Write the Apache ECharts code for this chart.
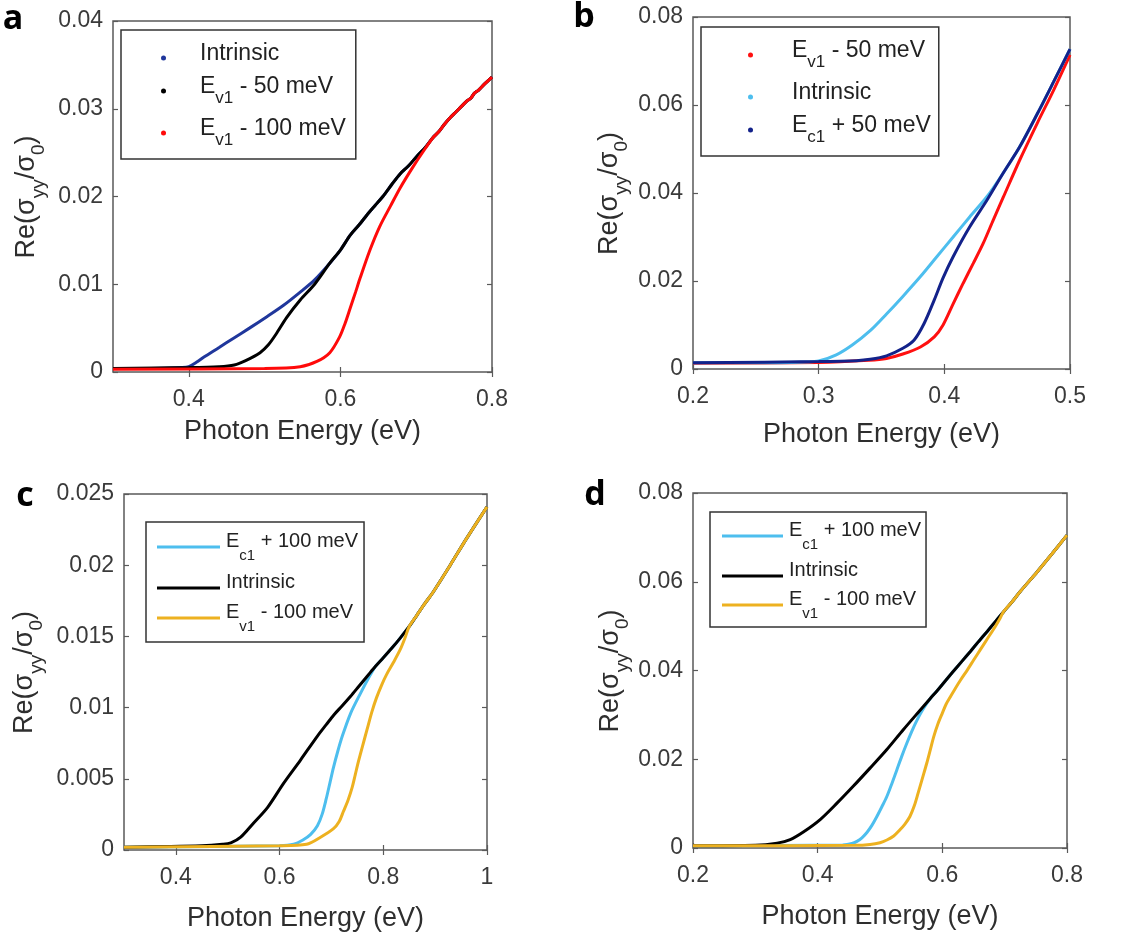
<!DOCTYPE html>
<html>
<head>
<meta charset="utf-8">
<script src="https://cdn.jsdelivr.net/npm/echarts@6/dist/echarts.min.js"></script>
<style>
  html, body { margin: 0; padding: 0; background: #fff; }
  #main { width: 1141px; height: 938px; }
</style>
</head>
<body>
<div id="main"></div>
<script>
// ---- Panel a: doping relative to the first valence band edge ----
const aIntrinsicLow = [[0.30,0.0004],[0.35,0.0004],[0.39,0.0005],[0.40,0.0006],[0.41,0.0011],[0.42,0.0017],[0.44,0.0028],[0.458,0.0038],[0.48,0.0050],[0.503,0.0063],[0.525,0.0076],[0.547,0.0091],[0.566,0.0105]];
const aEv50Low = [[0.30,0.0004],[0.40,0.0005],[0.44,0.0006],[0.46,0.0008],[0.475,0.0013],[0.494,0.0022],[0.505,0.0031],[0.515,0.0043],[0.529,0.0062],[0.547,0.0082],[0.566,0.0100]];
const aJoint = [[0.586,0.0124],[0.60,0.0139],[0.613,0.0156],[0.625,0.0168],[0.635,0.0179],[0.646,0.0190],[0.656,0.0200],[0.668,0.0214],[0.679,0.0226],[0.690,0.0235],[0.701,0.0246],[0.712,0.0256]];
const aTail = [[0.722,0.0267],[0.730,0.0274],[0.737,0.0282],[0.745,0.0290],[0.752,0.0296],[0.760,0.0303],[0.767,0.0309],[0.772,0.0312],[0.777,0.0318],[0.782,0.0321],[0.790,0.0328],[0.800,0.0336]];
const aEv100Low = [[0.30,0.0003],[0.50,0.0004],[0.547,0.0006],[0.569,0.0012],[0.586,0.0022],[0.599,0.0040],[0.606,0.0055],[0.613,0.0073],[0.620,0.0091],[0.626,0.0107],[0.639,0.0139],[0.652,0.0166],[0.666,0.0189],[0.679,0.0210],[0.696,0.0234],[0.709,0.0251]];
const aXTicks = [0.4, 0.6, 0.8];
const aYTicks = [0, 0.01, 0.02, 0.03, 0.04];

// ---- Panel b ----
const bIntrinsicLow = [[0.20,0.0014],[0.25,0.0014],[0.29,0.0016],[0.30,0.0018],[0.314,0.0032],[0.327,0.0055],[0.341,0.0087],[0.354,0.0125],[0.367,0.0165],[0.381,0.0210],[0.394,0.0255],[0.407,0.0300],[0.420,0.0345],[0.434,0.0392]];
const bEc50Low = [[0.20,0.0014],[0.30,0.0017],[0.330,0.0019],[0.341,0.0022],[0.354,0.0030],[0.367,0.0047],[0.376,0.0066],[0.384,0.0104],[0.392,0.0157],[0.399,0.0207],[0.407,0.0255],[0.420,0.0322],[0.434,0.0384]];
const bTail = [[0.447,0.0446],[0.460,0.0505],[0.474,0.0580],[0.487,0.0653],[0.500,0.0727]];
const bEv50 = [[0.20,0.0013],[0.30,0.0015],[0.340,0.0020],[0.354,0.0024],[0.367,0.0034],[0.381,0.0050],[0.392,0.0073],[0.399,0.0100],[0.407,0.0148],[0.415,0.0195],[0.423,0.0240],[0.431,0.0286],[0.439,0.0339],[0.447,0.0391],[0.460,0.0475],[0.474,0.0559],[0.487,0.0634],[0.500,0.0714]];
const bXTicks = [0.2, 0.3, 0.4, 0.5];
const bYTicks = [0, 0.02, 0.04, 0.06, 0.08];

// ---- Panel c ----
const cIntrinsicLow = [[0.30,0.0002],[0.45,0.0003],[0.49,0.0004],[0.506,0.0005],[0.525,0.0009],[0.55,0.0019],[0.577,0.0030],[0.608,0.0047],[0.640,0.0063],[0.673,0.0080],[0.690,0.0088],[0.705,0.0095],[0.720,0.0101],[0.737,0.0108],[0.753,0.0115],[0.769,0.0122]];
const cEc100Low = [[0.30,0.0002],[0.60,0.0003],[0.627,0.0004],[0.645,0.0007],[0.660,0.0011],[0.673,0.0017],[0.682,0.0025],[0.690,0.0036],[0.697,0.0047],[0.704,0.0058],[0.712,0.0069],[0.721,0.0080],[0.737,0.0096],[0.756,0.0110],[0.775,0.0123]];
const cMid = [[0.785,0.0129],[0.800,0.0135],[0.817,0.0142],[0.833,0.0149]];
const cTail = [[0.850,0.0157],[0.865,0.0165],[0.880,0.0173],[0.896,0.0181],[0.929,0.0200],[0.961,0.0219],[1.000,0.0241]];
const cEv100Low = [[0.30,0.0002],[0.60,0.0003],[0.652,0.0004],[0.679,0.0009],[0.704,0.0015],[0.715,0.0020],[0.723,0.0027],[0.732,0.0035],[0.740,0.0044],[0.746,0.0053],[0.752,0.0062],[0.760,0.0073],[0.769,0.0085],[0.778,0.0097],[0.787,0.0107],[0.797,0.0116],[0.806,0.0123],[0.820,0.0132],[0.833,0.0141],[0.842,0.0149]];
const cXTicks = [0.4, 0.6, 0.8, 1];
const cYTicks = [0, 0.005, 0.01, 0.015, 0.02, 0.025];

// ---- Panel d ----
const dIntrinsicLow = [[0.20,0.0005],[0.30,0.0006],[0.335,0.0011],[0.356,0.0019],[0.377,0.0036],[0.404,0.0064],[0.431,0.0101],[0.457,0.0139],[0.484,0.0180],[0.511,0.0222],[0.537,0.0266],[0.564,0.0310],[0.580,0.0336]];
const dEc100Low = [[0.20,0.0005],[0.44,0.0007],[0.455,0.0010],[0.463,0.0015],[0.471,0.0023],[0.479,0.0035],[0.487,0.0051],[0.495,0.0071],[0.503,0.0093],[0.511,0.0116],[0.519,0.0145],[0.527,0.0176],[0.535,0.0207],[0.543,0.0236],[0.551,0.0263],[0.559,0.0287],[0.567,0.0308],[0.575,0.0326],[0.583,0.0341]];
const dMid = [[0.592,0.0355],[0.605,0.0377],[0.617,0.0397],[0.631,0.0420],[0.645,0.0443],[0.658,0.0465],[0.672,0.0488],[0.685,0.0510]];
const dTail = [[0.698,0.0532],[0.712,0.0555],[0.725,0.0578],[0.752,0.0622],[0.776,0.0663],[0.800,0.0705]];
const dEv100Low = [[0.20,0.0005],[0.46,0.0006],[0.484,0.0008],[0.500,0.0012],[0.511,0.0018],[0.522,0.0027],[0.532,0.0041],[0.540,0.0054],[0.548,0.0071],[0.555,0.0095],[0.561,0.0123],[0.568,0.0157],[0.575,0.0191],[0.581,0.0223],[0.586,0.0250],[0.593,0.0280],[0.600,0.0304],[0.606,0.0324],[0.613,0.0341],[0.621,0.0360],[0.629,0.0378],[0.640,0.0401],[0.650,0.0423],[0.661,0.0447],[0.672,0.0471],[0.684,0.0497],[0.692,0.0516]];
const dXTicks = [0.2, 0.4, 0.6, 0.8];
const dYTicks = [0, 0.02, 0.04, 0.06, 0.08];

// Legend entries (rich text with subscripts)
const legendText = {
  aI:  '{g| }{m|Intrinsic}',
  aV50: '{g| }{m|E}{s|v1}{m| - 50 meV}',
  aV100: '{g| }{m|E}{s|v1}{m| - 100 meV}',
  bV50: '{g| }{m|E}{s|v1}{m| - 50 meV}',
  bI:  '{g| }{m|Intrinsic}',
  bC50: '{g| }{m|E}{s|c1}{m| + 50 meV}',
  cC100: '{t| }{m|E}{s|c1}{m| + 100 meV}',
  cI:  '{t| }{m|Intrinsic}',
  cV100: '{t| }{m|E}{s|v1}{m| - 100 meV}',
  dC100: '{t| }{m|E}{s|c1}{m| + 100 meV}',
  dI:  '{t| }{m|Intrinsic}',
  dV100: '{t| }{m|E}{s|v1}{m| - 100 meV}'
};

const FONT = '"Liberation Sans", Arial, Helvetica, sans-serif';
const AXIS_C = '#5a5a5a';
const LABEL_C = '#3a3a3a';

const panels = [
  { grid: {left: 113, top: 21, width: 379, height: 351}, x: [0.3, 0.8], y: [0, 0.04], xt: aXTicks, yt: aYTicks, yGap: 65, xGap: 46 },
  { grid: {left: 693, top: 17, width: 377, height: 352}, x: [0.2, 0.5], y: [0, 0.08], xt: bXTicks, yt: bYTicks, yGap: 62, xGap: 52 },
  { grid: {left: 124, top: 494, width: 363, height: 356}, x: [0.3, 1.0], y: [0, 0.025], xt: cXTicks, yt: cYTicks, yGap: 78, xGap: 55 },
  { grid: {left: 693, top: 493, width: 374, height: 355}, x: [0.2, 0.8], y: [0, 0.08], xt: dXTicks, yt: dYTicks, yGap: 61, xGap: 55 }
];

const fmt = v => String(parseFloat((+v).toFixed(4)));

const grids = [], xAxes = [], yAxes = [];
panels.forEach((p, i) => {
  grids.push(Object.assign({ show: true, borderColor: AXIS_C, borderWidth: 1.5, backgroundColor: 'transparent', containLabel: false }, p.grid));
});
// primary axes (bottom / left) with labels and names
panels.forEach((p, i) => {
  xAxes.push({
    gridIndex: i, type: 'value', min: p.x[0], max: p.x[1], position: 'bottom',
    axisLine: { show: false },
    axisTick: { show: true, inside: true, length: 5, customValues: p.xt, lineStyle: { color: AXIS_C, width: 1.2 } },
    axisLabel: { customValues: p.xt, formatter: fmt, color: LABEL_C, fontSize: 23, fontFamily: FONT, margin: 16 },
    splitLine: { show: false },
    name: 'Photon Energy (eV)', nameLocation: 'middle', nameGap: p.xGap,
    nameTextStyle: { fontSize: 27, color: '#2e2e2e', fontFamily: FONT }
  });
  yAxes.push({
    gridIndex: i, type: 'value', min: p.y[0], max: p.y[1], position: 'left',
    axisLine: { show: false },
    axisTick: { show: true, inside: true, length: 5, customValues: p.yt, lineStyle: { color: AXIS_C, width: 1.2 } },
    axisLabel: { customValues: p.yt, formatter: fmt, color: LABEL_C, fontSize: 23, fontFamily: FONT, margin: 10 },
    splitLine: { show: false },
    name: '{m|Re(σ}{s|yy}{m|/σ}{s|0}{m|)}{t| }', nameLocation: 'middle', nameRotate: 90, nameGap: p.yGap,
    nameTextStyle: {
      color: '#2e2e2e', fontFamily: FONT,
      rich: {
        m: { fontSize: 27, lineHeight: 28, verticalAlign: 'top', color: '#2e2e2e', fontFamily: FONT },
        s: { fontSize: 19, lineHeight: 19, verticalAlign: 'bottom', color: '#2e2e2e', fontFamily: FONT },
        t: { fontSize: 10, lineHeight: 35, width: 1 }
      }
    }
  });
});
// mirrored ticks (top / right)
panels.forEach((p, i) => {
  xAxes.push({
    gridIndex: i, type: 'value', min: p.x[0], max: p.x[1], position: 'top',
    axisLine: { show: false },
    axisTick: { show: true, inside: true, length: 5, customValues: p.xt, lineStyle: { color: AXIS_C, width: 1.2 } },
    axisLabel: { show: false }, splitLine: { show: false }
  });
  yAxes.push({
    gridIndex: i, type: 'value', min: p.y[0], max: p.y[1], position: 'right',
    axisLine: { show: false },
    axisTick: { show: true, inside: true, length: 5, customValues: p.yt, lineStyle: { color: AXIS_C, width: 1.2 } },
    axisLabel: { show: false }, splitLine: { show: false }
  });
});

function line(name, panel, color, data) {
  return {
    name: name, type: 'line', xAxisIndex: panel, yAxisIndex: panel,
    data: data, color: color, symbol: 'none', showSymbol: false,
    smooth: 0.3,
    lineStyle: { width: 3, color: color }, z: 2
  };
}

const C_LB = '#4DBEEE', C_OR = '#EDB120';
const series = [
  line('aI', 0, '#20379c', aIntrinsicLow.concat(aJoint, aTail)),
  line('aV50', 0, '#000000', aEv50Low.concat(aJoint, aTail)),
  line('aV100', 0, '#ff0a0a', aEv100Low.concat(aTail)),
  line('bV50', 1, '#ff1010', bEv50),
  line('bI', 1, C_LB, bIntrinsicLow.concat(bTail)),
  line('bC50', 1, '#13228a', bEc50Low.concat(bTail)),
  line('cC100', 2, C_LB, cEc100Low.concat(cMid, cTail)),
  line('cI', 2, '#000000', cIntrinsicLow.concat(cMid, cTail)),
  line('cV100', 2, C_OR, cEv100Low.concat(cTail)),
  line('dC100', 3, C_LB, dEc100Low.concat(dMid, dTail)),
  line('dI', 3, '#000000', dIntrinsicLow.concat(dMid, dTail)),
  line('dV100', 3, C_OR, dEv100Low.concat(dTail))
];

function legend(names, pos, dots, fontSize, subSize, spacer, padding, gap, itemW) {
  return {
    data: names.map(n => ({ name: n, icon: dots ? 'circle' : 'rect' })),
    orient: 'vertical', left: pos[0], top: pos[1],
    padding: padding, itemGap: gap,
    itemWidth: itemW, itemHeight: dots ? 5 : 3,
    borderColor: '#333', borderWidth: 1.5, backgroundColor: '#fff',
    selectedMode: false,
    itemStyle: { borderWidth: 0 },
    formatter: n => legendText[n],
    textStyle: {
      fontFamily: FONT, color: '#222',
      rich: {
        m: { fontSize: fontSize, lineHeight: 26, verticalAlign: 'top', color: '#222', fontFamily: FONT },
        s: { fontSize: subSize, lineHeight: subSize, verticalAlign: 'bottom', color: '#222', fontFamily: FONT },
        g: { fontSize: 10, lineHeight: 32, width: spacer },
        t: { fontSize: 10, lineHeight: 32, width: 1 }
      }
    }
  };
}

const legends = [
  legend(['aI', 'aV50', 'aV100'], [121, 30], true, 23, 17, 29, [12, 10, 10, 40], 10, 5),
  legend(['bV50', 'bI', 'bC50'], [701, 27], true, 23, 17, 34, [12, 8, 10, 47], 10, 5),
  legend(['cC100', 'cI', 'cV100'], [146, 522], false, 20, 15, 1, [9, 6, 8, 11], 9, 63),
  legend(['dC100', 'dI', 'dV100'], [710, 512], false, 20, 15, 1, [8, 5, 6, 12], 8, 61)
];

const letterFont = 'bold 34px "Open Sans", "Liberation Sans", Arial, sans-serif';
const graphics = [
  ['a', 13, 19], ['b', 584, 17], ['c', 25, 496], ['d', 595, 495]
].map(l => ({
  type: 'text', z: 10,
  style: { text: l[0], x: l[1], y: l[2], align: 'center', verticalAlign: 'middle', font: letterFont, fill: '#000' }
}));

const chart = echarts.init(document.getElementById('main'), null, { renderer: 'canvas' });
chart.setOption({
  animation: false,
  backgroundColor: '#fff',
  grid: grids,
  xAxis: xAxes,
  yAxis: yAxes,
  legend: legends,
  series: series,
  graphic: graphics
});
</script>
</body>
</html>
